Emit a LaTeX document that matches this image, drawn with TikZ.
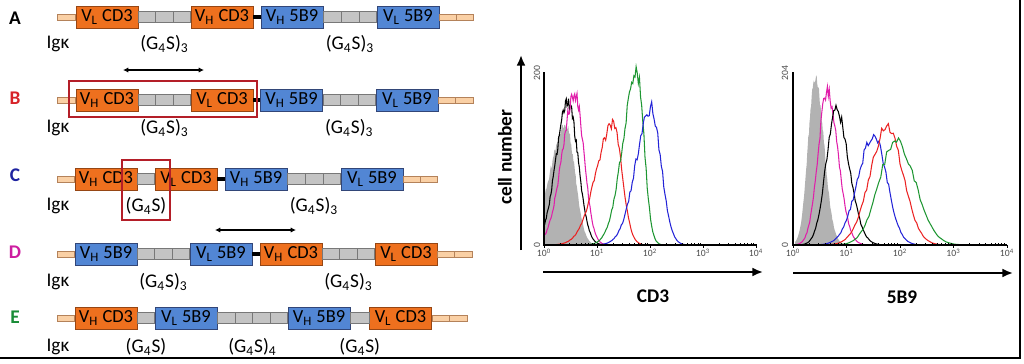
\documentclass[tikz,border=0pt]{standalone}
\usepackage{fontspec}
\setmainfont{Carlito}
\usetikzlibrary{arrows.meta}
\usetikzlibrary{calc}
\usetikzlibrary{positioning}

\definecolor{cdorange}{RGB}{238,112,30}
\definecolor{cdedge}{RGB}{150,70,20}
\definecolor{sbblue}{RGB}{82,134,212}
\definecolor{sbedge}{RGB}{50,70,120}
\definecolor{lkgray}{RGB}{196,196,196}
\definecolor{lkedge}{RGB}{120,120,120}
\definecolor{sigpeach}{RGB}{250,208,165}
\definecolor{sigedge}{RGB}{180,130,90}
\definecolor{frred}{RGB}{180,30,40}
\definecolor{lblred}{RGB}{215,35,40}
\definecolor{lblblue}{RGB}{30,35,160}
\definecolor{lblmag}{RGB}{205,30,160}
\definecolor{lblgreen}{RGB}{25,140,55}
\definecolor{hmag}{RGB}{225,30,170}
\definecolor{hred}{RGB}{235,35,35}
\definecolor{hgreen}{RGB}{30,150,50}
\definecolor{hblue}{RGB}{35,35,215}

% linker / signal bar cut into equal pieces
\newcommand\segbar[5]{%
  \foreach \k [evaluate=\k as \s using (\k-1)/#4, evaluate=\k as \e using \k/#4] in {1,...,#4}
    \draw[#1] ($(#2)!\s!(#3)+(0,-#5)$) rectangle ($(#2)!\e!(#3)+(0,#5)$);
}
% histogram trace: colour, from, to, peak, left spread, right spread, height
\newcommand\histo[7]{%
  \draw[trace,#1] plot[domain=#2:#3,samples=100]
    (\x,{245-(#7)*hump(\x,#4,#5,#6)*(1+0.05*rand)});
}
\newcommand\histofill[7]{%
  \fill[#1] (#2,245) -- plot[domain=#2:#3,samples=100]
    (\x,{245-(#7)*hump(\x,#4,#5,#6)*(1+0.04*rand)}) -- (#3,245) -- cycle;
}

\begin{document}
\begin{tikzpicture}[x=0.02cm,y=-0.02cm,
  declare function={hump(\t,\m,\l,\r)=exp(max(-15,-0.5*((\t-\m)/ifthenelse(\t<\m,\l,\r))*((\t-\m)/ifthenelse(\t<\m,\l,\r))));},
  cd3/.style={draw=cdedge, fill=cdorange, minimum width=1.24cm, minimum height=0.44cm, inner sep=0pt, line width=0.5pt, font=\fontsize{10.5}{12}\selectfont},
  sb9/.style={cd3, draw=sbedge, fill=sbblue},
  linker/.style={draw=lkedge, fill=lkgray, line width=0.4pt},
  signal/.style={draw=sigedge, fill=sigpeach, line width=0.4pt},
  hinge/.style={line width=2.4pt, black},
  rowlbl/.style={font=\fontsize{11}{13}\selectfont\bfseries},
  linklbl/.style={font=\fontsize{11}{13}\selectfont},
  frame/.style={draw=frred, line width=1pt},
  span/.style={{Latex[length=3pt,width=3pt]}-{Latex[length=3pt,width=3pt]}, line width=0.6pt},
  axis/.style={line width=0.8pt},
  bigarrow/.style={-{Latex[length=6pt,width=5pt]}, line width=1.1pt},
  tick/.style={line width=0.4pt},
  ticklbl/.style={font=\fontsize{5.5}{6}\selectfont, text=black!70, inner sep=1pt},
  trace/.style={line width=0.6pt},
  axlbl/.style={font=\fontsize{11}{13}\selectfont\bfseries}]
    \useasboundingbox (0,0) rectangle (1024,363);
    \pgfmathsetseed{4711}

    % Construct A
    \node[rowlbl] (lA) at (15,18) {A};
    \coordinate (sA) at (57,17);
    \node[cd3] (a1) at (107,17) {V\textsubscript{L} CD3};
    \node[cd3] (a2) at (222,17) {V\textsubscript{H} CD3};
    \node[sb9] (a3) at (292,17) {V\textsubscript{H} 5B9};
    \node[sb9] (a4) at (408,17) {V\textsubscript{L} 5B9};
    \coordinate (eA) at (473,17);
    \segbar{signal}{sA}{a1.west}{1}{3}
    \segbar{linker}{a1.east}{a2.west}{3}{5.5}
    \draw[hinge] (a2.east) -- (a3.west);
    \segbar{linker}{a3.east}{a4.west}{3}{5.5}
    \segbar{signal}{a4.east}{eA}{2}{3}
    \node[linklbl] (kA) at (58,44) {Igκ};
    \node[linklbl] (gA1) at ($(a1.east)!0.5!(a2.west)+(0,27)$) {(G\textsubscript{4}S)\textsubscript{3}};
    \node[linklbl] (gA2) at ($(a3.east)!0.5!(a4.west)+(0,27)$) {(G\textsubscript{4}S)\textsubscript{3}};

    % Construct B
    \coordinate (pB1) at (123,70);
    \coordinate (pB2) at (204,70);
    \draw[span] (pB1) -- (pB2);
    \node[rowlbl, text=lblred] (lB) at (15,98) {B};
    \coordinate (sB) at (57,100);
    \node[cd3] (b1) at (107,100) {V\textsubscript{H} CD3};
    \node[cd3] (b2) at (222,100) {V\textsubscript{L} CD3};
    \node[sb9] (b3) at (291.5,100) {V\textsubscript{H} 5B9};
    \node[sb9] (b4) at (407,100) {V\textsubscript{L} 5B9};
    \coordinate (eB) at (473,100);
    \segbar{signal}{sB}{b1.west}{1}{3}
    \segbar{linker}{b1.east}{b2.west}{3}{5.5}
    \draw[hinge] (b2.east) -- (b3.west);
    \segbar{linker}{b3.east}{b4.west}{3}{5.5}
    \segbar{signal}{b4.east}{eB}{2}{3}
    \draw[frame] (69,81) rectangle (257,117);
    \node[linklbl] (kB) at (58,128) {Igκ};
    \node[linklbl] (gB1) at ($(b1.east)!0.5!(b2.west)+(0,28)$) {(G\textsubscript{4}S)\textsubscript{3}};
    \node[linklbl] (gB2) at ($(b3.east)!0.5!(b4.west)+(0,28)$) {(G\textsubscript{4}S)\textsubscript{3}};

    % Construct C
    \node[rowlbl, text=lblblue] (lC) at (15,175) {C};
    \coordinate (sC) at (57,179);
    \node[cd3] (c1) at (106,179) {V\textsubscript{H} CD3};
    \node[cd3] (c2) at (186,179) {V\textsubscript{L} CD3};
    \node[sb9] (c3) at (256,179) {V\textsubscript{H} 5B9};
    \node[sb9] (c4) at (372,179) {V\textsubscript{L} 5B9};
    \coordinate (eC) at (437,179);
    \segbar{signal}{sC}{c1.west}{1}{3}
    \segbar{linker}{c1.east}{c2.west}{1}{5.5}
    \draw[hinge] (c2.east) -- (c3.west);
    \segbar{linker}{c3.east}{c4.west}{3}{5.5}
    \segbar{signal}{c4.east}{eC}{2}{3}
    \draw[frame] (122,160) rectangle (170,220);
    \node[linklbl] (kC) at (58,206) {Igκ};
    \node[linklbl] (gC1) at ($(c1.east)!0.5!(c2.west)+(0,27)$) {(G\textsubscript{4}S)};
    \node[linklbl] (gC2) at ($(c3.east)!0.5!(c4.west)+(0,27)$) {(G\textsubscript{4}S)\textsubscript{3}};

    % Construct D
    \coordinate (pD1) at (215,230);
    \coordinate (pD2) at (296,230);
    \draw[span] (pD1) -- (pD2);
    \node[rowlbl, text=lblmag] (lD) at (15,252) {D};
    \coordinate (sD) at (57,254);
    \node[sb9] (d1) at (106,254) {V\textsubscript{H} 5B9};
    \node[sb9] (d2) at (221,254) {V\textsubscript{L} 5B9};
    \node[cd3] (d3) at (291,254) {V\textsubscript{H} CD3};
    \node[cd3] (d4) at (406,254) {V\textsubscript{L} CD3};
    \coordinate (eD) at (472,254);
    \segbar{signal}{sD}{d1.west}{1}{3}
    \segbar{linker}{d1.east}{d2.west}{3}{5.5}
    \draw[hinge] (d2.east) -- (d3.west);
    \segbar{linker}{d3.east}{d4.west}{3}{5.5}
    \segbar{signal}{d4.east}{eD}{2}{3}
    \node[linklbl] (kD) at (58,282) {Igκ};
    \node[linklbl] (gD1) at ($(d1.east)!0.5!(d2.west)+(0,28)$) {(G\textsubscript{4}S)\textsubscript{3}};
    \node[linklbl] (gD2) at ($(d3.east)!0.5!(d4.west)+(0,28)$) {(G\textsubscript{4}S)\textsubscript{3}};

    % Construct E
    \node[rowlbl, text=lblgreen] (lE) at (15,317) {E};
    \coordinate (sE) at (57,318);
    \node[cd3] (e1) at (106,318) {V\textsubscript{H} CD3};
    \node[sb9] (e2) at (186,318) {V\textsubscript{L} 5B9};
    \node[sb9] (e3) at (319,318) {V\textsubscript{H} 5B9};
    \node[cd3] (e4) at (400.5,318) {V\textsubscript{L} CD3};
    \coordinate (eE) at (467,318);
    \segbar{signal}{sE}{e1.west}{1}{3}
    \segbar{linker}{e1.east}{e2.west}{1}{5.5}
    \segbar{linker}{e2.east}{e3.west}{4}{5.5}
    \segbar{linker}{e3.east}{e4.west}{1}{5.5}
    \segbar{signal}{e4.east}{eE}{2}{3}
    \node[linklbl] (kE) at (58,347) {Igκ};
    \node[linklbl] (gE1) at ($(e1.east)!0.5!(e2.west)+(0,29)$) {(G\textsubscript{4}S)};
    \node[linklbl] (gE2) at ($(e2.east)!0.5!(e3.west)+(0,29)$) {(G\textsubscript{4}S)\textsubscript{4}};
    \node[linklbl] (gE3) at ($(e3.east)!0.5!(e4.west)+(0,29)$) {(G\textsubscript{4}S)};

    % CD3 histogram
    \histofill{black!30}{544}{600}{566}{16}{9}{120}
    \histo{black}{544}{620}{568}{12}{10}{142}
    \histo{hmag}{544}{620}{575}{13}{9}{150}
    \histo{hred}{552}{665}{613}{17}{9}{120}
    \histo{hgreen}{575}{685}{637}{14}{7}{173}
    \histo{hblue}{585}{705}{651}{15}{10}{137}
    \draw[axis] (544,72) -- (544,245) -- (757,245);
    \foreach \d in {0,...,3}
      \foreach \m in {2,...,9}
        \draw[tick] ({544+53*(\d+log10(\m))},245) -- ++(0,-2.5);
    \foreach \d in {0,...,4} {
      \draw[tick] ({544+53*\d},245) -- ++(0,3);
      \node[ticklbl] (tc\d) at ({544+53*\d},253) {10\textsuperscript{\d}};
    }
    \node[ticklbl, rotate=90] (yc1) at (537,73) {200};
    \node[ticklbl, rotate=90] (yc0) at (537,245) {0};
    \coordinate (yb) at (521,250);
    \coordinate (yt) at (521,55);
    \draw[bigarrow] (yb) -- (yt);
    \node[axlbl, rotate=90] (cn) at (505,157) {cell number};
    \coordinate (xc0) at (543,272);
    \coordinate (xc1) at (763,272);
    \draw[bigarrow] (xc0) -- (xc1);
    \node[axlbl] (xcl) at (653,296) {CD3};

    % 5B9 histogram
    \histofill{black!30}{795}{850}{815}{7}{9}{167}
    \histo{hmag}{793}{885}{827}{9}{11}{152}
    \histo{black}{793}{905}{836}{10}{13}{135}
    \histo{hblue}{800}{935}{874}{16}{13}{110}
    \histo{hred}{800}{965}{887}{17}{16}{118}
    \histo{hgreen}{800}{995}{896}{17}{19}{105}
    \draw[axis] (793,72) -- (793,245) -- (1007,245);
    \foreach \d in {0,...,3}
      \foreach \m in {2,...,9}
        \draw[tick] ({793+53.5*(\d+log10(\m))},245) -- ++(0,-2.5);
    \foreach \d in {0,...,4} {
      \draw[tick] ({793+53.5*\d},245) -- ++(0,3);
      \node[ticklbl] (ts\d) at ({793+53.5*\d},253) {10\textsuperscript{\d}};
    }
    \node[ticklbl, rotate=90] (ys1) at (785,73) {204};
    \node[ticklbl, rotate=90] (ys0) at (785,245) {0};
    \coordinate (xs0) at (793,273);
    \coordinate (xs1) at (1013,273);
    \draw[bigarrow] (xs0) -- (xs1);
    \node[axlbl] (xsl) at (902,297) {5B9};

    % border
    \draw[line width=1.6pt] (0,358) -- (1020,358) -- (1020,0);
\end{tikzpicture}
\end{document}
